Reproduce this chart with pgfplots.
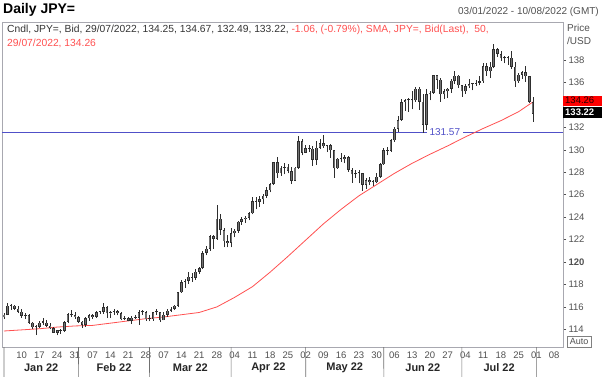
\documentclass[border=0pt]{standalone}
\usepackage{fontspec}
\setmainfont{Liberation Sans}
\usepackage{pgfplots}
\pgfplotsset{compat=1.18}
\usepackage{pgfplotstable}

\definecolor{wick}{HTML}{2E2E2E}
\definecolor{bodyc}{HTML}{727272}
\definecolor{smared}{HTML}{FF5050}
\definecolor{hline}{HTML}{5050C8}
\definecolor{axgray}{HTML}{A8A8B0}
\definecolor{txtgray}{HTML}{505050}
\definecolor{sepgray}{HTML}{707070}

\pgfplotstableread{
i O H L C
0 115.08 115.41 114.93 115.30
1 115.30 116.35 115.30 116.12
2 116.12 116.25 115.75 116.10
3 116.10 116.20 115.70 115.85
4 115.85 116.05 115.45 115.56
5 115.56 115.80 115.05 115.20
6 115.20 115.45 114.90 115.28
7 115.28 115.35 114.50 114.60
8 114.60 114.67 114.00 114.18
9 114.18 114.40 113.48 114.20
10 114.20 114.70 114.10 114.60
11 114.60 115.05 114.35 114.60
12 114.60 114.80 114.20 114.32
13 114.32 114.60 114.00 114.10
14 114.10 114.20 113.70 113.70
15 113.70 113.95 113.47 113.95
16 113.95 114.05 113.60 113.85
17 113.85 114.70 113.75 114.65
18 114.65 115.45 114.55 115.35
19 115.35 115.68 115.10 115.25
20 115.25 115.50 114.90 115.10
21 115.10 115.20 114.55 114.68
22 114.68 114.78 114.15 114.40
23 114.40 115.10 114.25 114.98
24 114.98 115.38 114.75 115.25
25 115.25 115.40 114.90 115.10
26 115.10 115.60 115.00 115.55
27 115.55 115.65 115.35 115.55
28 115.55 116.34 115.40 116.00
29 116.00 116.10 115.00 115.42
30 115.42 115.65 115.00 115.55
31 115.55 115.80 115.30 115.60
32 115.60 115.70 115.25 115.45
33 115.45 115.50 114.80 114.90
34 114.90 115.20 114.80 115.00
35 115.00 115.10 114.70 114.75
36 114.75 115.20 114.50 115.05
37 115.05 115.30 114.90 115.00
38 115.00 115.70 114.40 115.50
39 115.50 115.75 115.30 115.55
40 115.55 115.60 114.75 114.90
41 114.90 115.25 114.70 114.90
42 114.90 115.55 114.75 115.50
43 115.50 115.80 115.30 115.50
44 115.50 115.55 114.65 114.80
45 114.80 115.50 114.80 115.30
46 115.30 115.80 115.10 115.65
47 115.65 116.00 115.55 115.85
48 115.85 116.20 115.70 116.10
49 116.10 117.35 116.00 117.30
50 117.30 118.40 117.25 118.20
51 118.20 118.45 117.70 118.30
52 118.30 119.10 118.05 118.70
53 118.70 119.00 118.25 118.60
54 118.60 119.40 118.40 119.15
55 119.15 119.55 118.95 119.45
56 119.45 121.00 119.35 120.80
57 120.80 121.40 120.60 121.20
58 121.20 122.40 121.00 122.30
59 122.30 122.45 121.20 122.05
60 122.05 125.09 122.00 123.85
61 123.85 124.30 122.40 122.85
62 122.85 123.00 121.30 121.85
63 121.85 122.40 121.30 121.70
64 121.70 123.00 121.30 122.55
65 122.55 122.90 122.20 122.80
66 122.80 123.65 122.60 123.60
67 123.60 124.00 123.30 123.80
68 123.80 124.10 123.50 123.95
69 123.95 124.50 123.70 124.35
70 124.35 125.75 124.25 125.40
71 125.40 125.75 124.70 125.35
72 125.35 125.85 124.90 125.60
73 125.60 126.05 125.20 125.90
74 125.90 126.65 125.70 126.40
75 126.40 127.05 126.20 126.95
76 126.95 128.95 126.85 128.90
77 128.90 129.40 127.50 127.90
78 127.90 128.60 127.70 128.40
79 128.40 128.80 127.80 128.50
80 128.50 128.70 127.90 128.10
81 128.10 128.45 126.95 127.25
82 127.25 128.50 127.20 128.40
83 128.40 131.25 128.30 130.80
84 130.80 131.00 129.50 129.75
85 129.75 130.45 129.70 130.15
86 130.15 130.40 129.80 130.10
87 130.10 130.35 128.60 129.10
88 129.10 130.80 128.65 130.20
89 130.20 131.00 130.10 130.60
90 130.60 131.35 130.20 130.30
91 130.30 130.45 129.80 130.40
92 130.40 130.50 129.25 129.95
93 129.95 130.00 127.50 128.35
94 128.35 129.30 128.30 129.20
95 129.20 129.75 128.90 129.15
96 129.15 129.50 128.80 129.35
97 129.35 129.45 128.05 128.20
98 128.20 128.35 127.05 127.80
99 127.80 128.20 127.50 127.90
100 127.90 128.20 127.00 127.90
101 127.90 127.95 126.35 126.85
102 126.85 127.45 126.55 127.30
103 127.30 127.55 126.85 127.10
104 127.10 127.30 126.80 127.10
105 127.10 127.90 127.00 127.60
106 127.60 128.85 127.50 128.70
107 128.70 130.15 128.65 129.95
108 129.95 130.25 129.50 129.90
109 129.90 130.95 129.80 130.85
110 130.85 132.00 130.70 131.90
111 131.90 133.00 131.60 132.65
112 132.65 134.50 132.60 134.25
113 134.25 134.55 133.50 134.40
114 134.40 134.60 133.40 134.40
115 134.40 135.20 133.60 134.40
116 134.40 135.60 134.30 135.45
117 135.45 135.60 133.55 134.30
118 134.30 135.00 131.50 132.20
119 132.20 135.45 131.75 134.95
120 134.95 135.20 134.40 135.10
121 135.10 136.70 135.00 136.65
122 136.65 136.70 135.40 136.25
123 136.25 136.40 134.30 134.95
124 134.95 135.40 134.55 135.20
125 135.20 135.55 134.60 135.45
126 135.45 136.35 135.10 136.15
127 136.15 137.00 135.90 136.60
128 136.60 136.70 135.55 135.75
129 135.75 135.80 134.75 135.20
130 135.20 135.90 135.00 135.70
131 135.70 136.35 135.50 135.85
132 135.85 136.00 135.30 135.90
133 135.90 136.25 135.70 136.00
134 136.00 136.55 135.75 136.10
135 136.10 137.75 136.00 137.45
136 137.45 137.70 136.60 137.00
137 137.00 137.85 136.40 137.40
138 137.40 139.39 137.25 138.95
139 138.95 139.10 138.30 138.55
140 138.55 138.85 137.95 138.15
141 138.15 138.40 137.70 138.20
142 138.20 138.40 137.55 138.20
143 138.20 138.85 137.20 137.40
144 137.40 137.85 135.60 136.10
145 136.10 136.85 136.00 136.70
146 136.70 137.00 136.30 136.95
147 136.95 137.45 136.05 136.55
148 136.55 136.58 134.20 134.25
149 134.25 134.67 132.49 133.22
}\ohlc

\pgfplotstableread{
i S
0 113.85
5 113.95
10 114.05
15 114.20
20 114.30
25 114.35
30 114.55
35 114.75
40 114.95
45 115.10
50 115.30
55 115.50
60 116.00
65 116.85
70 117.80
75 119.10
80 120.50
85 121.95
90 123.40
95 124.70
100 125.90
105 126.90
110 127.90
115 128.80
120 129.60
125 130.35
130 131.15
135 131.90
140 132.60
145 133.40
149 134.26
}\sma

\begin{document}
\begin{tikzpicture}[x=1pt,y=1pt]
\useasboundingbox (0,0) rectangle (602,376);
\begin{axis}[
  at={(2pt,29pt)}, anchor=south west,
  scale only axis, width=561pt, height=325pt,
  xmin=-0.56, xmax=157.5, ymin=112.42, ymax=141.39,
  axis line style={axgray, line width=0.6pt},
  clip=false,
  xtick={5,10,...,155},
  xticklabels={10,17,24,31,07,14,21,28,07,14,21,28,04,11,18,25,02,09,16,23,30,06,13,20,27,04,11,18,25,01,08},
  x tick style={draw=none},
  x tick label style={font=\fontsize{9.5}{10}\selectfont, text=txtgray, yshift=1.5pt},
  ytick={114,116,118,120,122,124,126,128,130,132,136,138},
  yticklabels={114,116,118,\textbf{120},122,124,126,128,130,132,136,138},
  ytick pos=right, yticklabel pos=right,
  y tick style={txtgray, line width=0.5pt},
  tick align=outside, major tick length=3pt,
  y tick label style={font=\fontsize{9.5}{10}\selectfont, text=txtgray, xshift=-1pt},
]
% horizontal level line
\addplot[hline, line width=0.8pt, no markers] coordinates {(-0.56,131.57) (157.5,131.57)};
% SMA 50
\addplot[smared, line width=0.8pt, no markers] table[x=i, y=S] {\sma};
% wicks
\addplot[draw=none, no markers,
  error bars/.cd, y dir=plus, y explicit, error mark=none,
  error bar style={draw=wick, line width=0.6pt, solid}]
  table[x=i, y=L, y error expr={\thisrow{H}-\thisrow{L}}] {\ohlc};
% bodies (outline)
\addplot[draw=none, no markers,
  error bars/.cd, y dir=plus, y explicit, error mark=none,
  error bar style={draw=wick, line width=2.6pt, solid}]
  table[x=i, y expr={min(\thisrow{O},\thisrow{C})}, y error expr={max(abs(\thisrow{C}-\thisrow{O}),0.1)}] {\ohlc};
% bodies (inner)
\addplot[draw=none, no markers,
  error bars/.cd, y dir=plus, y explicit, error mark=none,
  error bar style={draw=bodyc, line width=1.1pt, solid}]
  table[x=i, y expr={min(\thisrow{O},\thisrow{C})+0.06}, y error expr={max(abs(\thisrow{C}-\thisrow{O})-0.12,0.0)}] {\ohlc};
% level label
\node[fill=white, text=hline, inner xsep=3pt, inner ysep=1pt, font=\fontsize{10}{11}\selectfont] at (axis cs:124.2,131.57) {131.57};
% month separators
\pgfplotsinvokeforeach{0,21,41,64,85,107,129,150}{
  \draw[sepgray, line width=0.6pt] (axis cs:#1,112.42) -- ++(0,-4pt);
  \draw[sepgray, line width=0.6pt] (axis cs:#1,112.42) ++(0,-11pt) -- ++(0,-18pt);
}
\node[font=\bfseries\fontsize{11}{12}\selectfont, text=black!85, inner sep=1pt] at ([yshift=-20.5pt]axis cs:10.5,112.42) {Jan 22};
\node[font=\bfseries\fontsize{11}{12}\selectfont, text=black!85, inner sep=1pt] at ([yshift=-20.5pt]axis cs:31,112.42) {Feb 22};
\node[font=\bfseries\fontsize{11}{12}\selectfont, text=black!85, inner sep=1pt] at ([yshift=-20.5pt]axis cs:52.5,112.42) {Mar 22};
\node[font=\bfseries\fontsize{11}{12}\selectfont, text=black!85, inner sep=1pt] at ([yshift=-20.5pt]axis cs:74.5,112.42) {Apr 22};
\node[font=\bfseries\fontsize{11}{12}\selectfont, text=black!85, inner sep=1pt] at ([yshift=-20.5pt]axis cs:96,112.42) {May 22};
\node[font=\bfseries\fontsize{11}{12}\selectfont, text=black!85, inner sep=1pt] at ([yshift=-20.5pt]axis cs:118,112.42) {Jun 22};
\node[font=\bfseries\fontsize{11}{12}\selectfont, text=black!85, inner sep=1pt] at ([yshift=-20.5pt]axis cs:139.5,112.42) {Jul 22};
\end{axis}
% header
\node[anchor=west, inner sep=0, font=\bfseries\fontsize{14}{16}\selectfont] at (3,366) {Daily JPY=};
\node[anchor=east, inner sep=0, font=\fontsize{10}{12}\selectfont, text=txtgray] at (599,364) {03/01/2022 - 10/08/2022 (GMT)};
% legend text inside plot
\node[anchor=west, inner sep=0, font=\fontsize{10.3}{12}\selectfont] at (7,346) {\textcolor{black!80}{Cndl, JPY=, Bid, 29/07/2022, 134.25, 134.67, 132.49, 133.22, }\textcolor{smared}{-1.06, (-0.79\%), SMA, JPY=, Bid(Last),\ \ 50,}};
\node[anchor=west, inner sep=0, font=\fontsize{10.3}{12}\selectfont, text=smared] at (7,333) {29/07/2022, 134.26};
% right axis title
\node[anchor=west, inner sep=0, font=\fontsize{10}{12}\selectfont, text=txtgray] at (567,348) {Price};
\node[anchor=west, inner sep=0, font=\fontsize{10}{12}\selectfont, text=txtgray] at (567,335) {/USD};
% last value boxes
\fill[red] (563,270.5) rectangle (602,280.5);
\node[anchor=west, inner sep=0, font=\fontsize{9.5}{10}\selectfont, text=black!85!red] at (565,275.5) {134.26};
\fill[black] (563,258) rectangle (602,269.5);
\node[anchor=west, inner sep=0, font=\bfseries\fontsize{9.5}{10}\selectfont, text=white] at (565,263.7) {133.22};
% Auto box
\draw[gray, line width=0.6pt] (567,29) rectangle (591,40);
\node[inner sep=0, font=\fontsize{9}{10}\selectfont, text=txtgray] at (579,34.5) {Auto};
\end{tikzpicture}
\end{document}
